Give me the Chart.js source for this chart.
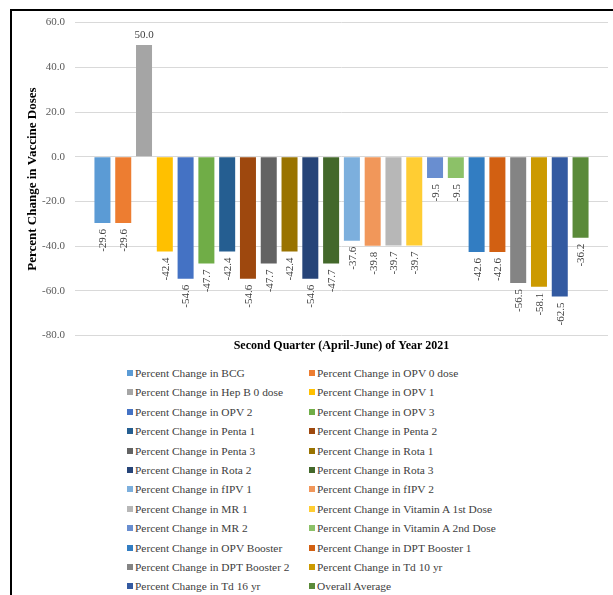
<!DOCTYPE html>
<html>
<head>
<meta charset="utf-8">
<title>Percent Change in Vaccine Doses</title>
<script src="https://cdn.jsdelivr.net/npm/chart.js@4.4.0/dist/chart.umd.min.js"></script>
<style>
  body { margin: 0; background: #fff; }
  #cadre { position: absolute; left: 10px; top: 9px; width: 640px; height: 620px; border: 2px solid #000; box-sizing: border-box; }
  #graphique { position: absolute; left: 0; top: -5px; }
  #legende { position: absolute; left: 0; top: 0; }
  .element { position: absolute; height: 16px; line-height: 16px; font: 11.4px "Liberation Serif", "Times New Roman", serif; color: #404040; white-space: nowrap; }
  .carre { display: inline-block; width: 6px; height: 6px; margin-right: 2px; vertical-align: 1px; }
</style>
</head>
<body>
<div id="cadre">
  <canvas id="graphique" width="600" height="351"></canvas>
  <div id="legende"></div>
</div>
<script>
// Données du graphique
const categories = [''];
const series = [
  'Percent Change in BCG', 'Percent Change in OPV 0 dose',
  'Percent Change in Hep B 0 dose', 'Percent Change in OPV 1',
  'Percent Change in OPV 2', 'Percent Change in OPV 3',
  'Percent Change in Penta 1', 'Percent Change in Penta 2',
  'Percent Change in Penta 3', 'Percent Change in Rota 1',
  'Percent Change in Rota 2', 'Percent Change in Rota 3',
  'Percent Change in fIPV 1', 'Percent Change in fIPV 2',
  'Percent Change in MR 1', 'Percent Change in Vitamin A 1st Dose',
  'Percent Change in MR 2', 'Percent Change in Vitamin A 2nd Dose',
  'Percent Change in OPV Booster', 'Percent Change in DPT Booster 1',
  'Percent Change in DPT Booster 2', 'Percent Change in Td 10 yr',
  'Percent Change in Td 16 yr', 'Overall Average'
];
const valeurs = [
  -29.6, -29.6, 50.0, -42.4, -54.6, -47.7,
  -42.4, -54.6, -47.7, -42.4, -54.6, -47.7,
  -37.6, -39.8, -39.7, -39.7, -9.5, -9.5,
  -42.6, -42.6, -56.5, -58.1, -62.5, -36.2
];
const couleurs = [
  '#5B9BD5', '#ED7D31', '#A5A5A5', '#FFC000', '#4472C4', '#70AD47',
  '#255E91', '#9E480E', '#636363', '#997300', '#264478', '#43682B',
  '#7CAFDD', '#F1975A', '#B7B7B7', '#FFCD33', '#698ED0', '#8CC168',
  '#327DC2', '#D26012', '#848484', '#CC9A00', '#335AA1', '#5A8A39'
];
const graduations = [60, 40, 20, 0, -20, -40, -60, -80];

const police = '"Liberation Serif", "Times New Roman", serif';

// Plugin pour afficher les valeurs sur les barres
const etiquettes = {
  id: 'etiquettes',
  afterDatasetsDraw(chart) {
    const ctx = chart.ctx;
    ctx.save();
    ctx.font = '11px ' + police;
    ctx.fillStyle = '#404040';
    chart.data.datasets.forEach((ds, i) => {
      const barre = chart.getDatasetMeta(i).data[0];
      const v = ds.data[0];
      const texte = v.toFixed(1);
      if (v >= 0) {
        ctx.textAlign = 'center';
        ctx.textBaseline = 'bottom';
        ctx.fillText(texte, barre.x, barre.y - 4);
      } else {
        ctx.save();
        ctx.translate(barre.x + 1, barre.y + 6);
        ctx.rotate(-Math.PI / 2);
        ctx.textAlign = 'right';
        ctx.textBaseline = 'middle';
        ctx.fillText(texte, 0, 0);
        ctx.restore();
      }
    });
    ctx.restore();
  }
};

const chart = new Chart(document.getElementById('graphique'), {
  type: 'bar',
  data: {
    labels: categories,
    datasets: series.map((nom, i) => ({
      label: nom,
      data: [valeurs[i]],
      backgroundColor: couleurs[i],
      categoryPercentage: 0.936,
      barPercentage: 0.77
    }))
  },
  options: {
    responsive: false,
    animation: false,
    layout: { padding: { top: 2, right: 4, left: 9, bottom: 0 } },
    plugins: {
      legend: { display: false },
      tooltip: { enabled: false }
    },
    scales: {
      x: {
        grid: { display: false, drawTicks: false },
        border: { display: false },
        ticks: { display: false },
        title: {
          display: true,
          text: 'Second Quarter (April-June) of Year 2021',
          font: { family: police, size: 12, weight: 'bold' },
          color: '#000',
          padding: { top: 3, bottom: 4 }
        }
      },
      y: {
        min: -80,
        max: 60,
        afterBuildTicks(axis) {
          axis.ticks = graduations.map(v => ({ value: v }));
        },
        afterFit(axis) {
          axis.width = 54;
        },
        ticks: {
          callback: v => Number(v).toFixed(1),
          font: { family: police, size: 11 },
          color: '#595959',
          padding: 10
        },
        grid: { color: '#D9D9D9', drawTicks: false },
        border: { display: false },
        title: {
          display: true,
          text: 'Percent Change in Vaccine Doses',
          font: { family: police, size: 13, weight: 'bold' },
          color: '#000',
          padding: { top: 4, bottom: 4 }
        }
      }
    }
  },
  plugins: [etiquettes]
});

// Légende en deux colonnes
const legende = document.getElementById('legende');
series.forEach((nom, i) => {
  const el = document.createElement('div');
  el.className = 'element';
  const col = i % 2;
  const ligne = Math.floor(i / 2);
  el.style.left = (col === 0 ? 115 : 297) + 'px';
  el.style.top = (364 + ligne * 19.4 - 8) + 'px';
  const carre = document.createElement('span');
  carre.className = 'carre';
  carre.style.background = couleurs[i];
  el.appendChild(carre);
  el.appendChild(document.createTextNode(nom));
  legende.appendChild(el);
});
</script>
</body>
</html>
